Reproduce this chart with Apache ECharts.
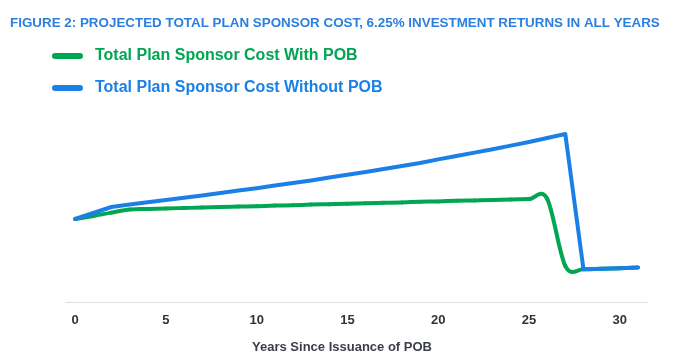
<!DOCTYPE html>
<html>
<head>
<meta charset="utf-8">
<script src="https://cdn.jsdelivr.net/npm/echarts@6/dist/echarts.min.js"></script>
<style>
html,body{margin:0;padding:0;background:#fff;}
#chart{width:697px;height:360px;}
</style>
</head>
<body>
<div id="chart"></div>
<script>
// Years since issuance (category axis)
var years = ['0','1','2','3','4','5','6','7','8','9','10','11','12','13','14','15','16','17','18','19','20','21','22','23','24','25','26','27','28','29','30','31'];
// Relative cost (no y-axis scale shown in the original)
var withPOB = [41.5,43.0,44.7,46.3,46.5,46.8,47.0,47.2,47.5,47.7,47.9,48.2,48.4,48.7,48.9,49.1,49.4,49.6,49.8,50.1,50.3,50.6,50.8,51.0,51.3,51.5,51.6,18.0,16.4,16.6,16.9,17.2];
var withoutPOB = [41.5,44.5,47.5,48.7,49.9,51.0,52.1,53.3,54.5,55.7,56.9,58.2,59.5,60.8,62.2,63.6,65.0,66.5,68.0,69.5,71.3,73.0,74.7,76.4,78.2,80.0,82.0,84.0,16.4,16.6,16.9,17.2];
var seriesNames = ['Total Plan Sponsor Cost With POB','Total Plan Sponsor Cost Without POB'];
var titleText = 'FIGURE 2: PROJECTED TOTAL PLAN SPONSOR COST, 6.25% INVESTMENT RETURNS IN ALL YEARS';
var xAxisName = 'Years Since Issuance of POB';

var GREEN = '#00A651';
var BLUE = '#1A80E6';
var capsule = 'path://M3,0 L28,0 A3,3 0 0 1 28,6 L3,6 A3,3 0 0 1 3,0 Z';
var FONT = 'Liberation Sans, Arial, sans-serif';

// Spreadsheet-style smoothed line (Catmull-Rom tangents), drawn through the axis scales
function smoothRenderer(values, color) {
  return function (params, api) {
    if (params.dataIndex !== 0) return null;
    var pts = values.map(function (v, i) { return api.coord([i, v]); });
    var children = [];
    for (var i = 0; i < pts.length - 1; i++) {
      var p0 = pts[i - 1] || pts[i], p1 = pts[i], p2 = pts[i + 1], p3 = pts[i + 2] || pts[i + 1];
      children.push({
        type: 'bezierCurve',
        shape: {
          x1: p1[0], y1: p1[1],
          cpx1: p1[0] + (p2[0] - p0[0]) / 6, cpy1: p1[1] + (p2[1] - p0[1]) / 6,
          cpx2: p2[0] - (p3[0] - p1[0]) / 6, cpy2: p2[1] - (p3[1] - p1[1]) / 6,
          x2: p2[0], y2: p2[1]
        },
        style: {stroke: color, lineWidth: 4, fill: 'none', lineCap: 'round', lineJoin: 'round'}
      });
    }
    return {type: 'group', children: children};
  };
}

var chart = echarts.init(document.getElementById('chart'), null, {renderer:'canvas'});
chart.setOption({
  animation: false,
  backgroundColor: '#ffffff',
  title: {
    text: titleText,
    left: 5, top: 12,
    textStyle: {fontFamily: FONT, fontSize: 13.4, fontWeight: 'bold', color: '#2B7FE0'}
  },
  legend: {
    orient: 'vertical',
    left: 47, top: 43,
    itemWidth: 31, itemHeight: 6,
    itemGap: 16,
    icon: capsule,
    textStyle: {fontFamily: FONT, fontSize: 16, fontWeight: 'bold', padding: [0,0,0,7]},
    data: [
      {name: seriesNames[0], textStyle: {color: GREEN}},
      {name: seriesNames[1], textStyle: {color: BLUE}}
    ]
  },
  grid: {left: 66, right: 50, top: 102, bottom: 58, containLabel: false},
  xAxis: {
    type: 'category',
    data: years,
    boundaryGap: true,
    axisLine: {lineStyle: {color: '#DDDDDD', width: 1}},
    axisTick: {show: false},
    axisLabel: {interval: 4, margin: 12, color: '#333333', fontFamily: FONT, fontSize: 13, fontWeight: 'bold'},
    name: xAxisName,
    nameLocation: 'middle',
    nameGap: 39,
    nameTextStyle: {color: '#3A3F4A', fontFamily: FONT, fontSize: 13, fontWeight: 'bold', padding: [0,29,0,0]}
  },
  yAxis: {
    type: 'value', min: 0, max: 100,
    show: false,
    splitLine: {show: false}
  },
  series: [
    {
      name: seriesNames[0], type: 'custom',
      data: withPOB.map(function (v, i) { return [i, v]; }),
      encode: {x: 0, y: 1},
      color: GREEN,
      itemStyle: {color: GREEN},
      renderItem: smoothRenderer(withPOB, GREEN)
    },
    {
      name: seriesNames[1], type: 'line', data: withoutPOB,
      smooth: false, showSymbol: false, symbol: 'none',
      color: BLUE,
      lineStyle: {color: BLUE, width: 4, cap: 'round', join: 'round'}
    }
  ]
});
</script>
</body>
</html>
